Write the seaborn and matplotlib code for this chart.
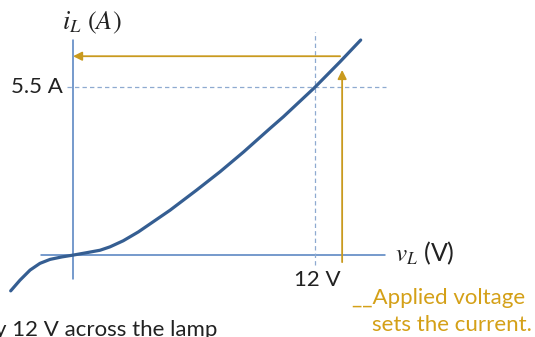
"""Lamp I-V characteristic with the 12 V operating point marked."""

import matplotlib
matplotlib.use("Agg")
import matplotlib.pyplot as plt
import pandas as pd
import seaborn as sns

# lamp characteristic (volts, amps)
v_curve = [-3.09, -2.63, -2.13, -1.64, -1.14, -0.56, 0.0, 0.68, 1.34, 1.83,
           2.49, 3.24, 4.81, 6.13, 7.29, 8.46, 9.77, 10.43, 12.0, 13.24, 14.26]
i_curve = [-1.17, -0.82, -0.49, -0.27, -0.14, -0.06, 0.0, 0.08, 0.16, 0.27,
           0.47, 0.76, 1.47, 2.13, 2.73, 3.38, 4.15, 4.53, 5.5, 6.33, 7.04]

v_op = 12.0       # applied voltage
i_op = 5.5        # resulting current
v_label = "12 V"
i_label = "5.5 A"

curve_col = "#355e92"
axis_col = "#4f7fbf"
dash_col = "#8eaad0"
gold = "#c99a1e"
text_gold = "#d4a017"

sns.set_theme(style="white")
plt.rcParams["font.family"] = ["Lato", "DejaVu Sans"]
plt.rcParams["mathtext.fontset"] = "stix"

fig = plt.figure(figsize=(5.35, 3.37), dpi=100)
ax = fig.add_axes([0, 0, 1, 1])
ax.set_xlim(-3.62, 22.9)
ax.set_ylim(-2.68, 8.35)
ax.axis("off")

# coordinate axes
ax.plot([0, 0], [-0.79, 7.04], color=axis_col, lw=1.1)
ax.plot([-1.59, 15.47], [0, 0], color=axis_col, lw=1.1)

# guide lines for the operating point
ax.plot([v_op, v_op], [-0.33, 7.3], color=dash_col, lw=0.9, ls=(0, (3.5, 2.5)))
ax.plot([-0.3, 15.52], [i_op, i_op], color=dash_col, lw=0.9, ls=(0, (3.5, 2.5)))

df = pd.DataFrame({"v": v_curve, "i": i_curve})
sns.lineplot(data=df, x="v", y="i", ax=ax, color=curve_col, lw=2.3)

# applied voltage -> current arrows
arrow = dict(arrowstyle="-|>", color=gold, lw=1.3, mutation_scale=13,
             shrinkA=0, shrinkB=0)
ax.annotate("", xy=(0, 6.51), xytext=(13.24, 6.51), arrowprops=arrow)
ax.annotate("", xy=(13.34, 6.06), xytext=(13.34, -0.23), arrowprops=arrow)

fs = 16
ax.text(0.95, 7.6, r"$i_L\ (A)$", fontsize=19, ha="center", va="center",
        color="#222222")
ax.text(-0.5, i_op, i_label, fontsize=fs, ha="right", va="center", color="#222222")
ax.text(v_op + 0.1, -0.82, v_label, fontsize=fs, ha="center", va="center",
        color="#222222")
ax.text(15.96, 0.07, r"$v_L$ (V)", fontsize=18, ha="left", va="center",
        color="#222222")
ax.text(13.83, -1.41, "__Applied voltage", fontsize=fs, ha="left", va="center",
        color=text_gold)
ax.text(14.82, -2.29, "sets the current.", fontsize=fs, ha="left", va="center",
        color=text_gold)
ax.text(-3.87, -2.66, "y 12 V across the lamp", fontsize=fs, ha="left",
        va="baseline", color="#222222")

fig.savefig("out.png", dpi=100)
plt.close(fig)
